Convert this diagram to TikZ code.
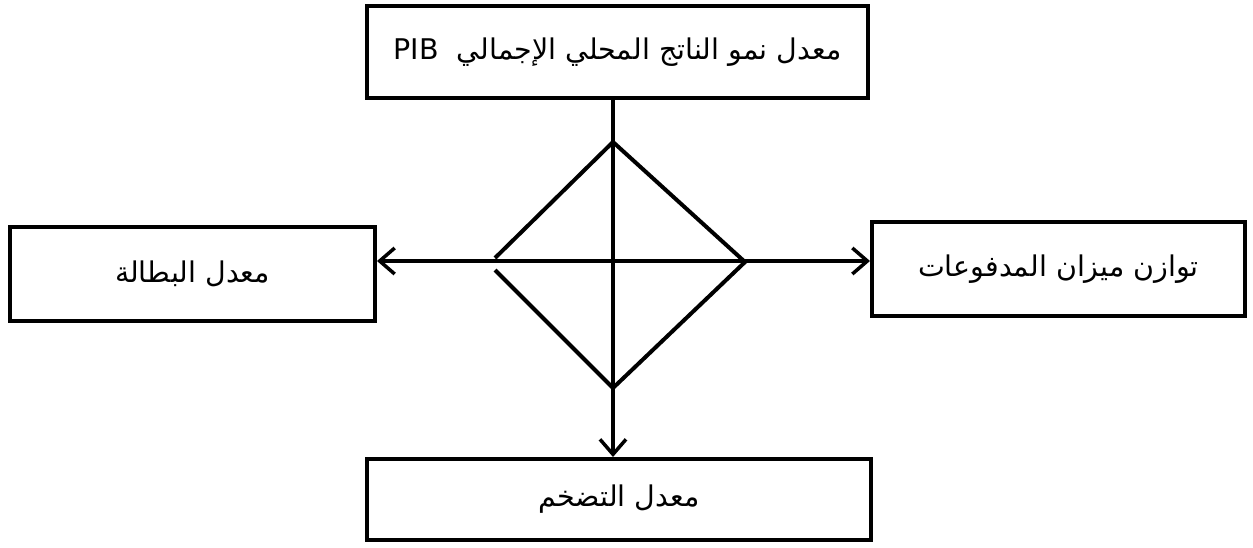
\documentclass[tikz,border=0pt]{standalone}
\usepackage{fontspec}
\newfontfamily\arabicfont[Script=Arabic]{DejaVu Sans}
\TeXXeTstate=1
\usetikzlibrary{arrows.meta}

\begin{document}
\begin{tikzpicture}[
    x=1pt, y=-1pt,
    factor/.style={rectangle, draw=black, line width=4pt, align=center, font=\arabicfont\fontsize{28.5}{32}\selectfont},
    link/.style={line width=3.5pt, >={Straight Barb[length=15pt, width=26pt]}},
    rhomb/.style={line width=4pt, line join=miter}
]
\useasboundingbox (0,0) rectangle (1253,547);

% Boxes
\node[factor, minimum width=501pt, minimum height=92pt] (growth) at (617.5, 52) {\beginR معدل نمو الناتج المحلي الإجمالي\ \ \beginL PIB\endL\endR};
\node[factor, minimum width=365pt, minimum height=94pt] (unemp) at (192.5, 274) {\beginR معدل البطالة\endR};
\node[factor, minimum width=373pt, minimum height=94pt] (balance) at (1058.5, 269) {\beginR توازن ميزان المدفوعات\endR};
\node[factor, minimum width=504pt, minimum height=81pt] (infl) at (619, 499.5) {\beginR معدل التضخم\endR};

% Centre of the square
\coordinate (hub) at (613, 261);

% Magic square
\draw[rhomb] (495, 270) -- (613, 388) -- (745, 262) -- (613, 142) -- (495, 258);

% Axes
\draw[link, ->] (growth.south -| hub) -- (infl.north -| hub);
\draw[link, <->] (unemp.east |- hub) -- (balance.west |- hub);

\end{tikzpicture}
\end{document}
